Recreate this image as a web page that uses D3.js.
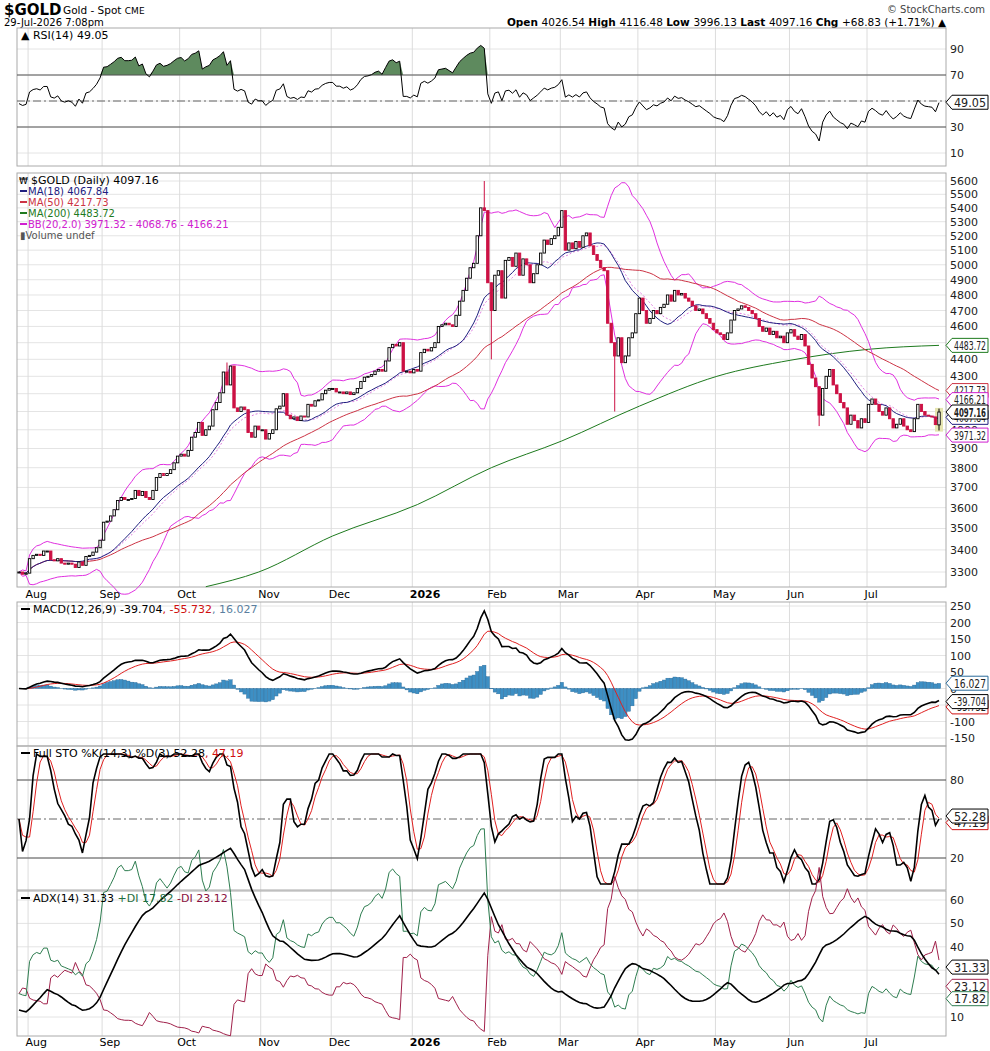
<!DOCTYPE html>
<html><head><meta charset="utf-8">
<script src="https://cdn.jsdelivr.net/npm/d3@7"></script>
<style>body{margin:0;background:#fff}text{font-family:"DejaVu Sans",Verdana,sans-serif}</style>
</head><body><svg id="c" width="990" height="1051"></svg>
<script>
// ---- data (daily closes), 29-Jul-2025 .. 29-Jul-2026 ----
const closes = [
3300,3290,3295,
3360,3375,3380,3375,3395,3395,3355,3350,3360,3340,3335,3340,3335,3320,3345,3330,3370,3375,3390,3410,3445,
3530,3535,3560,3590,3635,3650,3640,3640,3645,3685,3660,3680,3650,3640,3685,3750,3770,3760,3770,3790,3825,3860,
3870,3860,3890,3960,3985,4040,3970,4000,4020,4110,4150,4205,4325,4250,4360,4120,4100,4125,4110,3985,3960,4020,4000,
4000,3950,3980,4000,4115,4130,4200,4080,4060,4070,4050,4075,4070,4140,4130,4160,4165,4200,4220,4230,
4230,4210,4210,4200,4210,4195,4205,4230,4270,4295,4300,4310,4330,4340,4330,4390,4470,4490,4480,4500,4330,4330,4320,
4340,4330,4440,4460,4450,4470,4500,4600,4610,4620,4610,4600,4670,4760,4830,4910,4980,5010,5200,5400,5380,4880,
4700,4930,4960,4780,5030,5050,4990,5080,4930,5040,5000,4880,4940,5000,5080,5170,5140,5180,5200,5260,
5380,5100,5150,5110,5160,5120,5200,5220,5130,5070,5030,4980,4960,4620,4500,4420,4530,4380,4420,4530,4560,4680,
4780,4700,4620,4650,4700,4680,4720,4740,4800,4760,4830,4800,4810,4780,4760,4730,4700,4710,4680,4650,4620,4580,
4560,4550,4520,4560,4640,4700,4710,4730,4720,4700,4680,4650,4600,4570,4590,4550,4570,4530,4540,4500,4560,
4580,4540,4520,4550,4480,4370,4290,4240,4080,4230,4300,4340,4250,4200,4150,4120,4030,4080,4050,4010,4060,4040,
4140,4170,4140,4100,4080,4120,4060,4010,4030,4060,4020,4000,3990,4060,4140,4100,4080,4075,4070,4028,4097.16];
// notable wick extremes: [date, high, low]
const wickExtremes = [["2025-10-20",4381,null],["2026-01-29",5600,null],["2026-02-02",null,4400],["2026-03-23",null,4100],["2026-06-11",null,4020],["2026-07-29",4116.48,3996.13]];
// MA(200) (no history before the window)
const ma200Dates = ["2025-10-10","2025-10-31","2025-12-01","2026-01-02","2026-02-02","2026-03-02","2026-04-01","2026-05-01","2026-06-01","2026-07-01","2026-07-29"];
const ma200Vals  = [3235,3300,3465,3615,3800,3940,4130,4300,4395,4460,4483.72];
const priceTicks = [3300,3400,3500,3600,3700,3800,3900,4000,4100,4200,4300,4400,4500,4600,4700,4800,4900,5000,5100,5200,5300,5400,5500,5600];
const rsiTicks=[10,30,50,70,90], macdTicks=[-150,-100,-50,0,50,100,150,200,250], stoTicks=[20,80], adxTicks=[10,20,30,40,50,60];

// ---- dates: weekdays ending 29-Jul-2026 ----
const N=closes.length, dates=[];
{let d=new Date(Date.UTC(2026,6,29));while(dates.length<N){const w=d.getUTCDay();if(w>0&&w<6)dates.unshift(new Date(d));d=new Date(d.getTime()-864e5);}}
const iso=d=>d.toISOString().slice(0,10);
const idxOf=s=>dates.findIndex(d=>iso(d)===s);

// OHLC
const opens=closes.map((c,i)=>i?closes[i-1]:c); opens[N-1]=4026.54;
const highs=closes.map((c,i)=>Math.max(c,opens[i])), lows=closes.map((c,i)=>Math.min(c,opens[i]));
wickExtremes.forEach(([s,h,l])=>{const i=idxOf(s);if(i<0)return;if(h)highs[i]=h;if(l)lows[i]=l;});

// ---- indicators ----
const sma=(a,n)=>a.map((_,i)=>{const s=a.slice(Math.max(0,i-n+1),i+1);return d3.mean(s);});
const ema=(a,n)=>{const k=2/(n+1);let e=a[0];return a.map(v=>e=v*k+e*(1-k));};
const ma18=sma(closes,18), ma50=sma(closes,50), bbm=sma(closes,20);
const bbsd=closes.map((_,i)=>d3.deviation(closes.slice(Math.max(0,i-19),i+1))||0);
const bbu=bbm.map((m,i)=>m+2*bbsd[i]), bbl=bbm.map((m,i)=>m-2*bbsd[i]);
const rsi=(()=>{let ag=12,al=13;return closes.map((c,i)=>{if(i){const ch=c-closes[i-1];ag=(ag*13+Math.max(ch,0))/14;al=(al*13+Math.max(-ch,0))/14;}return 100-100/(1+ag/al);});})();
const e12=ema(closes,12),e26=ema(closes,26),macd=e12.map((v,i)=>v-e26[i]),sig=ema(macd,9),hist=macd.map((v,i)=>v-sig[i]);
const rawK=closes.map((c,i)=>{const hh=d3.max(highs.slice(Math.max(0,i-13),i+1)),ll=d3.min(lows.slice(Math.max(0,i-13),i+1));return hh===ll?50:100*(c-ll)/(hh-ll);});
const stoK=sma(rawK,3), stoD=sma(stoK,3);
const adxAll=(()=>{let tr=14*25,pd=14*5,md=14*5,adx=13;const P=[],M=[],A=[];for(let i=0;i<N;i++){if(i){
 const up=highs[i]-highs[i-1],dn=lows[i-1]-lows[i];const p=up>dn&&up>0?up:0,m=dn>up&&dn>0?dn:0;
 const t=Math.max(highs[i]-lows[i],Math.abs(highs[i]-closes[i-1]),Math.abs(lows[i]-closes[i-1]));
 tr=tr-tr/14+t;pd=pd-pd/14+p;md=md-md/14+m;}
 const pdi=100*pd/tr,mdi=100*md/tr,dx=(pdi+mdi)?100*Math.abs(pdi-mdi)/(pdi+mdi):0;
 if(i)adx=(adx*13+dx)/14;P.push(pdi);M.push(mdi);A.push(adx);}return {P,M,A};})();

// ---- layout ----
const svg=d3.select("#c"), L=17, R=946;
const x=d3.scaleLinear().domain([0,N-1]).range([19,939]);
const bw=2.4;
const monthIdx=[idxOf("2025-08-01")];dates.forEach((d,i)=>{if(i&&d.getUTCMonth()!==dates[i-1].getUTCMonth()&&d.getUTCMonth()!==7)monthIdx.push(i);});
const mNames=["Jan","Feb","Mar","Apr","May","Jun","Jul","Aug","Sep","Oct","Nov","Dec"];
const panels={rsi:[28,166],price:[173,587],macd:[602,746],sto:[746,890],adx:[891,1036]};
function panel([t,b],ticks,y){
  const g=svg.append("g");
  g.selectAll(".h").data(ticks).join("line").attr("x1",L).attr("x2",R).attr("y1",d=>y(d)).attr("y2",d=>y(d)).attr("stroke","#e4e4e4");
  g.selectAll(".v").data(monthIdx).join("line").attr("x1",d=>x(d)-1.5).attr("x2",d=>x(d)-1.5).attr("y1",t).attr("y2",b).attr("stroke","#dcdcdc");
  g.selectAll(".t").data(ticks).join("text").attr("x",950).attr("y",d=>y(d)+4).attr("font-size",11).attr("fill","#222").text(d=>d);
  svg.append("rect").attr("x",L).attr("y",t).attr("width",R-L).attr("height",b-t).attr("fill","none").attr("stroke","#aaa");
}
function legend(y,parts){const t=svg.append("text").attr("x",33).attr("y",y).attr("font-size",11);parts.forEach(([s,c])=>t.append("tspan").attr("fill",c).text(s));
  svg.append("line").attr("x1",21).attr("x2",30).attr("y1",y-4).attr("y2",y-4).attr("stroke","#000").attr("stroke-width",2);}
function tag(yv,txt,col,bold){const g=svg.append("g").attr("transform",`translate(946,${yv})`);
  const w=42;g.append("path").attr("d",`M0,0 L6,-7 L${w},-7 L${w},7 L6,7 Z`).attr("fill","#fff").attr("stroke",col);
  g.append("text").attr("x",8).attr("y",4.5).attr("font-size",bold?12.5:12).attr("font-weight",bold?"bold":"normal")
   .attr("textLength",32).attr("lengthAdjust","spacingAndGlyphs").attr("fill","#222").text(txt);}
const line=(yS,arr)=>d3.line().x((d,i)=>x(i)).y((d,i)=>yS(arr[i]))(arr);

// header
svg.append("text").attr("x",4).attr("y",15).attr("font-size",15).attr("font-weight","bold").attr("font-family","Liberation Sans Narrow,Arial Narrow,sans-serif").text("$GOLD");
svg.append("text").attr("x",63).attr("y",14).attr("font-size",10.5).attr("font-family","Liberation Sans Narrow,sans-serif").text("Gold - Spot ").append("tspan").attr("font-size",9).text("CME");
svg.append("text").attr("x",4).attr("y",26).attr("font-size",10).attr("font-family","Liberation Sans Narrow,sans-serif").text("29-Jul-2026 7:08pm");
svg.append("text").attr("x",985).attr("y",13).attr("font-size",10).attr("text-anchor","end").attr("fill","#444").text("© StockCharts.com");
{const t=svg.append("text").attr("x",946).attr("y",26).attr("font-size",10.5).attr("text-anchor","end");
 [["Open ",1],["4026.54 ",0],["High ",1],["4116.48 ",0],["Low ",1],["3996.13 ",0],["Last ",1],["4097.16 ",0],["Chg ",1],["+68.83 (+1.71%) ▲",0]].forEach(([s,b])=>t.append("tspan").attr("font-weight",b?"bold":"normal").text(s));}

// RSI
const yR=d3.scaleLinear().domain([0,100]).range([166,36]);
panel(panels.rsi,rsiTicks,yR);
svg.append("path").attr("d",d3.area().x((d,i)=>x(i)).y0(yR(70)).y1(d=>yR(Math.max(d,70)))(rsi)).attr("fill","#5e8a5e").attr("stroke","none");
[30,70].forEach(v=>svg.append("line").attr("x1",L).attr("x2",R).attr("y1",yR(v)).attr("y2",yR(v)).attr("stroke","#555"));
svg.append("line").attr("x1",L).attr("x2",R).attr("y1",yR(50)).attr("y2",yR(50)).attr("stroke","#666").attr("stroke-dasharray","8,3,2,3");
svg.append("path").attr("d",line(yR,rsi)).attr("fill","none").attr("stroke","#000");
svg.append("text").attr("x",21).attr("y",39).attr("font-size",11).text("▲ RSI(14) 49.05");
tag(yR(49.05),"49.05","#000");

// Price
const yP=d3.scaleLog().domain([3300,5600]).range([572,181]);
panel(panels.price,priceTicks,yP);
svg.append("rect").attr("x",x(N-1)-4).attr("y",yP(4120)).attr("width",8).attr("height",yP(3990)-yP(4120)).attr("fill","#e5e5b0");
const ma200x=ma200Dates.map(idxOf);
svg.append("path").attr("d",d3.line().curve(d3.curveMonotoneX).x((d,i)=>x(ma200x[i])).y(d=>yP(d))(ma200Vals)).attr("fill","none").attr("stroke","#1e7a1e");
svg.append("path").attr("d",line(yP,bbu)).attr("fill","none").attr("stroke","#e030e0");
svg.append("path").attr("d",line(yP,bbl)).attr("fill","none").attr("stroke","#e030e0");
svg.append("path").attr("d",line(yP,bbm)).attr("fill","none").attr("stroke","#e080e0").attr("stroke-dasharray","2,2");
svg.append("path").attr("d",line(yP,ma50)).attr("fill","none").attr("stroke","#cc3344");
svg.append("path").attr("d",line(yP,ma18)).attr("fill","none").attr("stroke","#202080");
const cg=svg.append("g");
closes.forEach((c,i)=>{const o=opens[i],up=c>=o,col=(i&&c<closes[i-1])?"#cc1144":"#000";
  cg.append("line").attr("x1",x(i)).attr("x2",x(i)).attr("y1",yP(highs[i])).attr("y2",yP(lows[i])).attr("stroke",col);
  const t=yP(Math.max(o,c)),b=yP(Math.min(o,c));
  cg.append("rect").attr("x",x(i)-bw/2).attr("y",t).attr("width",bw).attr("height",Math.max(1,b-t)).attr("fill",up?"#fff":col).attr("stroke",col).attr("stroke-width",0.9);});
svg.append("text").attr("x",31).attr("y",184).attr("font-size",11).text("$GOLD (Daily) 4097.16");
svg.append("text").attr("x",19).attr("y",184).attr("font-size",9).text("₩");
[["MA(18) 4067.84","#202080"],["MA(50) 4217.73","#cc3344"],["MA(200) 4483.72","#1e7a1e"],["BB(20,2.0) 3971.32 - 4068.76 - 4166.21","#d020d0"]].forEach(([s,c],k)=>{
  svg.append("line").attr("x1",20).attr("x2",27).attr("y1",191+k*11).attr("y2",191+k*11).attr("stroke",c).attr("stroke-width",2);
  svg.append("text").attr("x",28).attr("y",195+k*11).attr("font-size",10).attr("fill",c).text(s);});
svg.append("text").attr("x",20).attr("y",239).attr("font-size",10).attr("fill","#555").text("▮Volume undef");
tag(yP(4483.72),"4483.72","#1e7a1e");tag(yP(4217.73),"4217.73","#cc3344");tag(yP(4166.21),"4166.21","#d020d0");
tag(yP(4067.84),"4067.84","#202080");tag(yP(4097.16),"4097.16","#000",true);tag(yP(3971.32),"3971.32","#d020d0");
function dateLabels(y){svg.selectAll(null).data(monthIdx).join("text").attr("x",d=>x(d)-4).attr("y",y).attr("font-size",11)
  .attr("font-weight",d=>dates[d].getUTCMonth()===0?"bold":"normal").text(d=>dates[d].getUTCMonth()===0?dates[d].getUTCFullYear():mNames[dates[d].getUTCMonth()]);}
dateLabels(598);

// MACD
const yM=d3.scaleLinear().domain([0,250]).range([688.5,606]);
panel(panels.macd,macdTicks,yM);
svg.append("g").selectAll("rect").data(hist).join("rect").attr("x",(d,i)=>x(i)-1.7).attr("width",3.4)
  .attr("y",d=>Math.min(yM(d),yM(0))).attr("height",d=>Math.abs(yM(d)-yM(0))).attr("fill","#3d8fc4").attr("stroke","#2a6a99").attr("stroke-width",0.4);
svg.append("path").attr("d",line(yM,sig)).attr("fill","none").attr("stroke","#e02020");
svg.append("path").attr("d",line(yM,macd)).attr("fill","none").attr("stroke","#000").attr("stroke-width",1.6);
legend(613,[["MACD(12,26,9) -39.704","#000"],[", -55.732","#d01010"],[", 16.027","#5a7fa0"]]);
tag(yM(16.027),"16.027","#2a6a99");tag(yM(-55.732),"-55.732","#d01010");tag(yM(-39.704),"-39.704","#000");

// STO
const yS=d3.scaleLinear().domain([20,80]).range([858,780]);
panel(panels.sto,stoTicks,yS);
[20,80].forEach(v=>svg.append("line").attr("x1",L).attr("x2",R).attr("y1",yS(v)).attr("y2",yS(v)).attr("stroke","#555"));
svg.append("line").attr("x1",L).attr("x2",R).attr("y1",yS(50)).attr("y2",yS(50)).attr("stroke","#666").attr("stroke-dasharray","8,3,2,3");
svg.append("path").attr("d",line(yS,stoD)).attr("fill","none").attr("stroke","#e02020");
svg.append("path").attr("d",line(yS,stoK)).attr("fill","none").attr("stroke","#000").attr("stroke-width",1.6);
legend(757,[["Full STO %K(14,3) %D(3) 52.28","#000"],[", 47.19","#d01010"]]);
tag(yS(47.19),"47.19","#d01010");tag(yS(52.28),"52.28","#000");

// ADX
const yA=d3.scaleLinear().domain([10,60]).range([1017,900]);
panel(panels.adx,adxTicks,yA);
svg.append("path").attr("d",line(yA,adxAll.M)).attr("fill","none").attr("stroke","#a0204a");
svg.append("path").attr("d",line(yA,adxAll.P)).attr("fill","none").attr("stroke","#2e7d50");
svg.append("path").attr("d",line(yA,adxAll.A)).attr("fill","none").attr("stroke","#000").attr("stroke-width",1.6);
legend(902,[["ADX(14) 31.33 ","#000"],["+DI 17.82 ","#1e6e40"],["-DI 23.12","#8a1040"]]);
tag(yA(31.33),"31.33","#000");tag(yA(23.12),"23.12","#a0204a");tag(yA(17.82),"17.82","#2e7d50");
dateLabels(1046);
</script></body></html>
